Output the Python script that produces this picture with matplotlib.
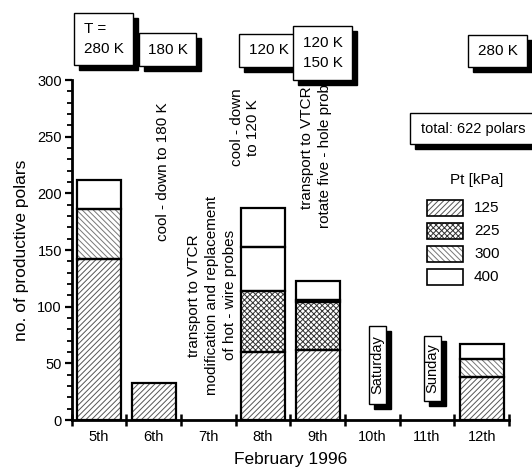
import numpy as np
import matplotlib.pyplot as plt
from matplotlib.patches import Rectangle

plt.rcParams['font.family'] = ['Liberation Sans', 'DejaVu Sans']
plt.rcParams['hatch.linewidth'] = 0.7

# Productive polars per day, stacked by total pressure Pt [kPa]
days = ["5th", "6th", "7th", "8th", "9th", "10th", "11th", "12th"]
pressures = ["125", "225", "300", "400"]
p125 = [142, 33, 0, 60, 62, 0, 0, 38]
p225 = [0, 0, 0, 54, 42, 0, 0, 0]
p300 = [44, 0, 0, 39, 2, 0, 0, 16]
p400 = [26, 0, 0, 34, 17, 0, 0, 13]
total_polars = 622

# temperature boxes above the days
temp_labels = ["T =\n280 K", "180 K", "120 K", "120 K\n150 K", "280 K"]

W, H = 532, 471
fig = plt.figure(figsize=(W / 100, H / 100), dpi=100)
ax = fig.add_axes([71.7 / W, 1 - 420 / H, (509 - 71.7) / W, (420 - 80) / H])

x = np.arange(len(days)) + 0.5
layers = [p125, p225, p300, p400]
hatches = ["//////", "xxxxxx", "\\\\\\\\\\\\", ""]
hatch_cols = ["#555555", "#333333", "#777777", "black"]
# the 300 kPa segment of the 8th was left blank
hatch_300 = ["\\\\\\\\\\\\", "", "", "", "\\\\\\\\\\\\", "", "", "\\\\\\\\\\\\"]

bottom = np.zeros(len(days))
for k, vals in enumerate(layers):
    vals = np.array(vals, dtype=float)
    for i in range(len(days)):
        if vals[i] <= 0:
            continue
        h = hatch_300[i] if k == 2 else hatches[k]
        ax.bar(x[i], vals[i], bottom=bottom[i], width=0.8, color="white",
               edgecolor=hatch_cols[k], hatch=h, linewidth=0, zorder=2)
        ax.bar(x[i], vals[i], bottom=bottom[i], width=0.8, fill=False,
               edgecolor="black", linewidth=1.6, zorder=3)
    bottom += vals

ax.set_xlim(0, 8)
ax.set_ylim(0, 300)
for s in ["top", "right"]:
    ax.spines[s].set_visible(False)
ax.spines["left"].set_linewidth(2)
ax.spines["bottom"].set_linewidth(2)

ax.set_yticks(np.arange(0, 301, 50))
ax.set_yticks(np.arange(0, 301, 10), minor=True)
ax.tick_params(axis="y", which="major", direction="out", length=5, width=1.6, labelsize=10.5, pad=2)
ax.tick_params(axis="y", which="minor", direction="out", length=3.5, width=1.3)

ax.set_xticks(np.arange(0, 9))
ax.set_xticklabels([])
ax.set_xticks(x, minor=True)
ax.set_xticklabels(days, minor=True)
ax.tick_params(axis="x", which="major", direction="inout", length=9, width=1.8)
ax.tick_params(axis="x", which="minor", length=0, labelsize=10.5, pad=7)

ax.set_ylabel("no. of productive polars", fontsize=12.5, labelpad=6)
ax.set_xlabel("February 1996", fontsize=12.5, labelpad=6)

# event annotations
ax.text(1.67, 219, "cool - down to 180 K", rotation=90, ha="center", va="center", fontsize=11)
ax.text(2.57, 110, "transport to VTCR\nmodification and replacement\nof hot - wire probes",
        rotation=90, ha="center", va="center", fontsize=11, multialignment="center",
        linespacing=1.35)
ax.text(3.17, 258, "cool - down\nto 120 K", rotation=90, ha="center", va="center",
        fontsize=11, multialignment="center", linespacing=1.2)
ax.text(4.47, 240, "transport to VTCR\nrotate five - hole probes", rotation=90,
        ha="center", va="center", fontsize=11, multialignment="center", linespacing=1.35)


def shadow_box(x0, y0, x1, y1, text, rotation=0, size=11, off=5, align="center"):
    # box given in pixels from the top-left corner, with a solid drop shadow
    def to_fig(px, py):
        return px / W, 1 - py / H
    fx0, fy1 = to_fig(x0, y1)
    w, h = (x1 - x0) / W, (y1 - y0) / H
    fig.add_artist(Rectangle((fx0 + off / W, fy1 - off / H), w, h, transform=fig.transFigure,
                             facecolor="black", edgecolor="black", zorder=5))
    fig.add_artist(Rectangle((fx0, fy1), w, h, transform=fig.transFigure,
                             facecolor="white", edgecolor="black", linewidth=1.0, zorder=6))
    cx, cy = to_fig((x0 + x1) / 2, (y0 + y1) / 2)
    fig.text(cx, cy, text, ha="center", va="center", rotation=rotation, fontsize=size,
             linespacing=1.5, multialignment=align, zorder=7)


shadow_box(74, 13, 133, 65, temp_labels[0], align="left")
shadow_box(139, 33, 196, 66, temp_labels[1])
shadow_box(239, 34, 298, 67, temp_labels[2])
shadow_box(293, 26, 352, 80, temp_labels[3], align="left")
shadow_box(468, 35, 527, 67, temp_labels[4])
shadow_box(410, 113, 536, 144, "total: %d polars" % total_polars, size=10.5)
shadow_box(369, 326, 386, 404, "Saturday", rotation=90, size=10.5, off=5)
shadow_box(424, 336, 441, 401, "Sunday", rotation=90, size=10.5, off=5)

# legend for the pressure levels
fig.text(477 / W, 1 - 180 / H, "Pt [kPa]", ha="center", va="center", fontsize=11)
leg_y = [208, 231, 254, 277]
for k, lab in enumerate(pressures):
    fig.add_artist(Rectangle((427 / W, 1 - (leg_y[k] + 8) / H), 36 / W, 16 / H,
                             transform=fig.transFigure, facecolor="white",
                             edgecolor=hatch_cols[k], hatch=hatches[k], linewidth=0))
    fig.add_artist(Rectangle((427 / W, 1 - (leg_y[k] + 8) / H), 36 / W, 16 / H,
                             transform=fig.transFigure, fill=False,
                             edgecolor="black", linewidth=1.2))
    fig.text(474 / W, 1 - leg_y[k] / H, lab, ha="left", va="center", fontsize=11)

fig.savefig("out.png", dpi=100)
